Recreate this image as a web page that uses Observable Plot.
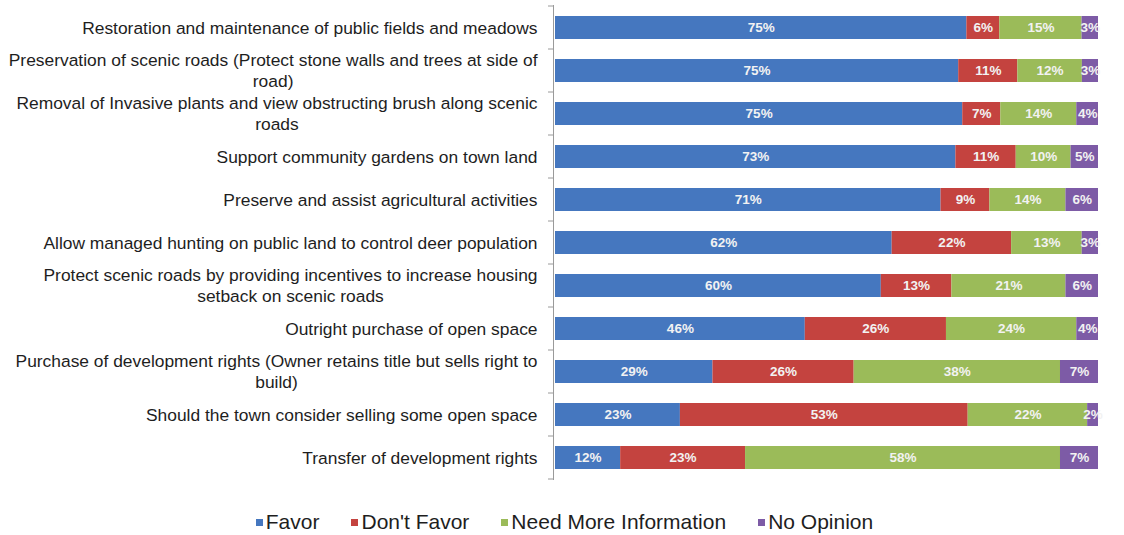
<!DOCTYPE html>
<html>
<head>
<meta charset="utf-8">
<script src="https://cdn.jsdelivr.net/npm/d3@7"></script>
<script src="https://cdn.jsdelivr.net/npm/@observablehq/plot@0.6"></script>
<style>
  body { margin: 0; background: #fff; font-family: "Liberation Sans", Arial, sans-serif; }
  #legend { display: flex; justify-content: center; align-items: center; height: 24px; margin-top: 10px; font-size: 21px; color: #1e1e1e; padding-left: 5px; }
  #legend .item { display: flex; align-items: center; margin: 0 16px; }
  #legend .sw { width: 7px; height: 7px; margin-right: 3px; margin-top: 1px; }
</style>
</head>
<body>
<div id="chart"></div>
<div id="legend"></div>
<script>
// Categories (label lines)
const categoryLines = [
  ["Restoration and maintenance of public fields and meadows"],
  ["Preservation of scenic roads (Protect stone walls and trees at side of", "road)"],
  ["Removal of Invasive plants and view obstructing brush along scenic", "roads"],
  ["Support community gardens on town land"],
  ["Preserve and assist agricultural activities"],
  ["Allow managed hunting on public land to control deer population"],
  ["Protect scenic roads by providing incentives to increase housing", "setback on scenic roads"],
  ["Outright purchase of open space"],
  ["Purchase of development rights (Owner retains title but sells right to", "build)"],
  ["Should the town consider selling some open space"],
  ["Transfer of development rights"]
];
const categories = categoryLines.map(l => l.join(" "));

const seriesNames = ["Favor", "Don't Favor", "Need More Information", "No Opinion"];
const favor      = [75, 75, 75, 73, 71, 62, 60, 46, 29, 23, 12];
const dontFavor  = [ 6, 11,  7, 11,  9, 22, 13, 26, 26, 53, 23];
const needInfo   = [15, 12, 14, 10, 14, 13, 21, 24, 38, 22, 58];
const noOpinion  = [ 3,  3,  4,  5,  6,  3,  6,  4,  7,  2,  7];
const colors = ["#4577bf", "#c4433f", "#9bbb59", "#7d5ba6"];

const seriesValues = [favor, dontFavor, needInfo, noOpinion];
const data = [];
categories.forEach((c, i) => {
  seriesNames.forEach((s, j) => {
    data.push({question: c, response: s, value: seriesValues[j][i]});
  });
});

const W = 1124, H = 500, ML = 555, MR = 26, MT = 5, MB = 20;
const labelFont = 17.4, labelGap = 18, lineShift = 10.5;

const ctx = document.createElement("canvas").getContext("2d");
ctx.font = `${labelFont}px "Liberation Sans"`;

const singles = categoryLines.filter(l => l.length === 1).map(l => ({cat: l[0], line: l[0]}));
const doubles = categoryLines.filter(l => l.length === 2);

const labelMarks = [
  Plot.text(singles, {y: d => d.cat, text: d => d.line, x: 0, dx: -labelGap, textAnchor: "end", fontSize: labelFont, fill: "#1e1e1e"})
];
doubles.forEach(l => {
  const cat = l.join(" ");
  const w1 = ctx.measureText(l[0]).width;
  labelMarks.push(Plot.text([cat], {y: d => d, text: () => l[0], x: 0, dx: -labelGap, dy: -lineShift, textAnchor: "end", fontSize: labelFont, fill: "#1e1e1e"}));
  labelMarks.push(Plot.text([cat], {y: d => d, text: () => l[1], x: 0, dx: -(labelGap + w1 / 2), dy: lineShift, textAnchor: "middle", fontSize: labelFont, fill: "#1e1e1e"}));
});

const chart = Plot.plot({
  width: W, height: H,
  marginLeft: ML, marginRight: MR, marginTop: MT, marginBottom: MB,
  style: {fontFamily: '"Liberation Sans", Arial, sans-serif', background: "#fff"},
  x: {domain: [0, 1], axis: null},
  y: {domain: categories, paddingInner: 0.47, paddingOuter: 0.235, axis: null},
  color: {domain: seriesNames, range: colors},
  marks: [
    Plot.barX(data, {x: "value", y: "question", fill: "response", offset: "normalize"}),
    Plot.text(data, Plot.stackX({x: "value", y: "question", z: "response", offset: "normalize",
      text: d => d.value + "%", fill: "#f2f2f2", fontWeight: "bold", fontSize: 13.5})),
    Plot.ruleX([0], {dx: -2, stroke: "#9a9a9a"}),
    ...labelMarks
  ]
});
document.getElementById("chart").appendChild(chart);

// tick marks at band boundaries of the y axis
const ys = chart.scale("y");
const bw = ys.bandwidth;
const starts = categories.map(c => ys.apply(c));
const step = starts[1] - starts[0];
const gap = (step - bw) / 2;
const tickYs = starts.map(s => s - gap).concat([starts[starts.length - 1] + bw + gap]);
const x0 = chart.scale("x").apply(0) - 2;
const g = d3.select(chart).append("g").attr("stroke", "#9a9a9a");
tickYs.forEach(t => {
  g.append("line").attr("x1", x0 - 5).attr("x2", x0).attr("y1", t).attr("y2", t);
});

// legend
const legend = d3.select("#legend");
seriesNames.forEach((s, i) => {
  const it = legend.append("div").attr("class", "item");
  it.append("div").attr("class", "sw").style("background", colors[i]);
  it.append("span").text(s);
});
</script>
</body>
</html>
